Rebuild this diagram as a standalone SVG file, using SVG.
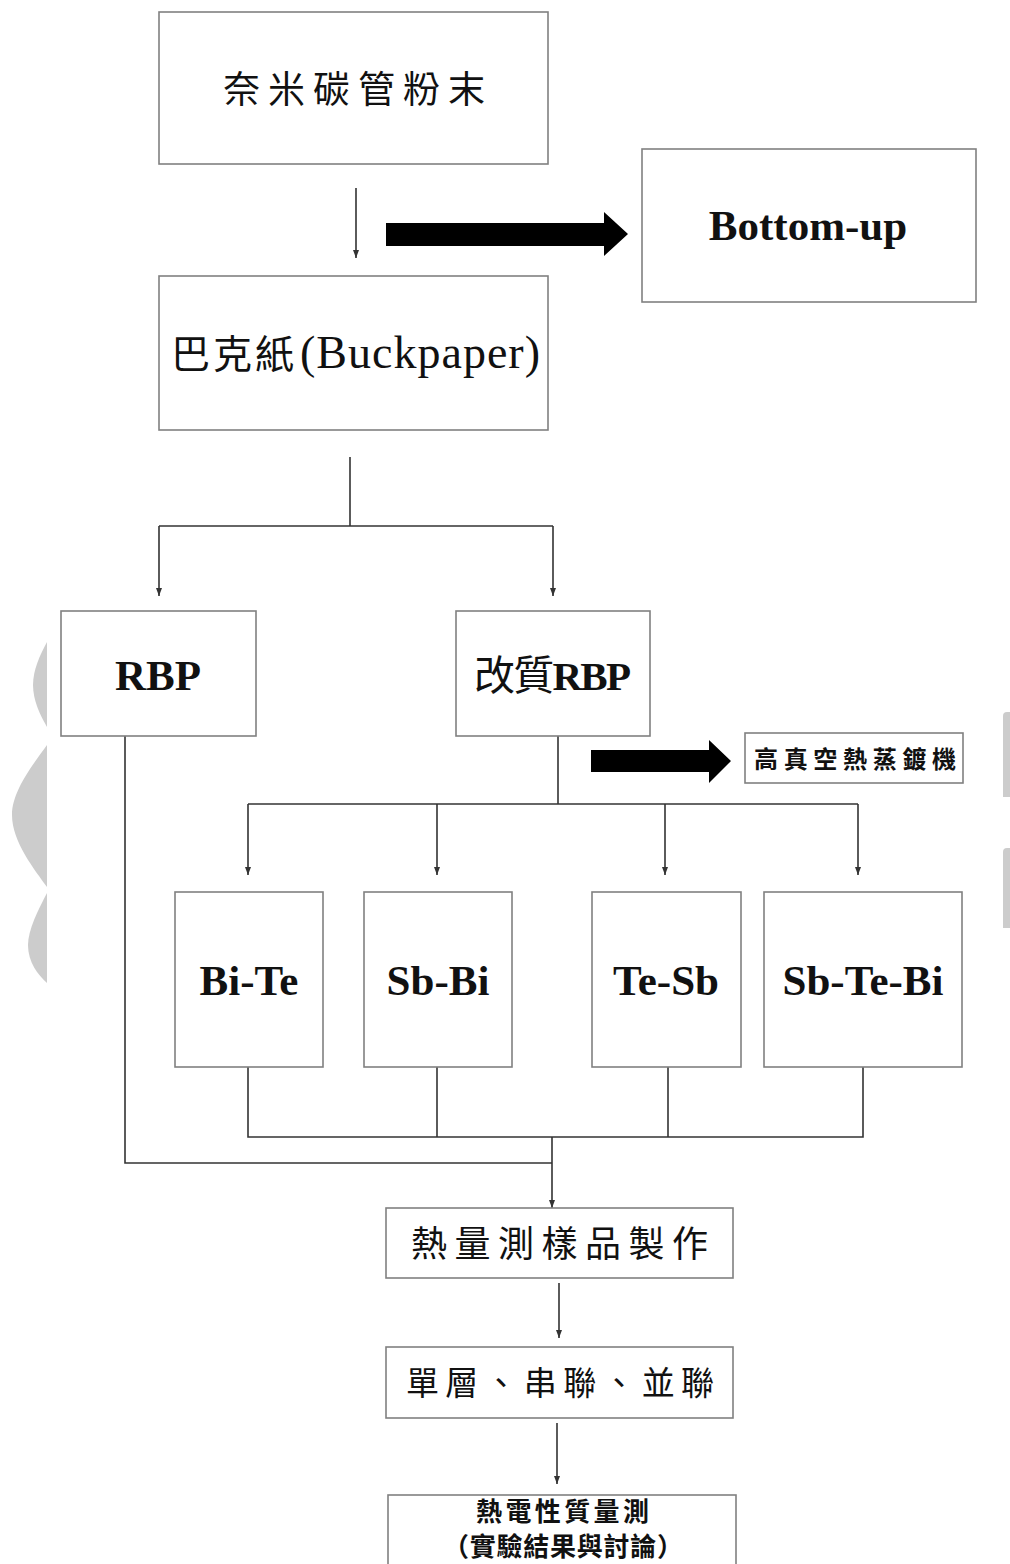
<svg xmlns="http://www.w3.org/2000/svg" width="1010" height="1564" viewBox="0 0 1010 1564">
<style>
.box{fill:#fff;stroke:#808080;stroke-width:1.6}
.cn{fill:none;stroke:#333;stroke-width:1.6}
.cjk{font-family:"Noto Sans CJK TC","Noto Sans CJK SC",sans-serif;fill:#111}
.lat{font-family:"Liberation Serif","Noto Sans CJK TC",serif;font-weight:bold;fill:#111}
.mix{font-family:"Liberation Serif","Noto Sans CJK TC",serif;fill:#111}
.wm{fill:#cccccc}
.big{fill:#000}
</style>
<defs>
<marker id="ah" viewBox="0 0 8 8" refX="8" refY="4" markerWidth="8" markerHeight="8" markerUnits="userSpaceOnUse" orient="auto">
<path d="M0,1 L8,4 L0,7 Z" fill="#333"/>
</marker>
</defs>
<g id="watermark">
<path class="wm" d="M47,642 C40,655 33,670 33,685 C33,700 40,715 47,727 Z"/>
<path class="wm" d="M47,745 C35,762 12,790 12,815 C12,842 35,870 47,887 Z"/>
<path class="wm" d="M47,893 C38,910 28,930 28,945 C28,962 38,975 47,983 Z"/>
<path class="wm" d="M1003,716 Q1003,712 1007,712 L1010,712 L1010,797 L1003,797 Z"/>
<path class="wm" d="M1003,852 Q1003,848 1007,848 L1010,848 L1010,928 L1003,928 Z"/>
</g>
<g id="connectors">
<line class="cn" x1="356" y1="188" x2="356" y2="258" marker-end="url(#ah)"/>
<polygon class="big" points="386,223 604,223 604,212 628,234 604,256 604,246 386,246"/>
<polyline class="cn" points="350,457 350,526"/>
<polyline class="cn" points="159,526 553,526"/>
<line class="cn" x1="159" y1="526" x2="159" y2="596" marker-end="url(#ah)"/>
<line class="cn" x1="553" y1="526" x2="553" y2="596" marker-end="url(#ah)"/>
<polyline class="cn" points="558,736 558,804"/>
<polyline class="cn" points="248,804 858,804"/>
<line class="cn" x1="248" y1="804" x2="248" y2="875" marker-end="url(#ah)"/>
<line class="cn" x1="437" y1="804" x2="437" y2="875" marker-end="url(#ah)"/>
<line class="cn" x1="665" y1="804" x2="665" y2="875" marker-end="url(#ah)"/>
<line class="cn" x1="858" y1="804" x2="858" y2="875" marker-end="url(#ah)"/>
<polygon class="big" points="591,750 709,750 709,740 731,761 709,783 709,772 591,772"/>
<polyline class="cn" points="248,1067 248,1137 863,1137 863,1067"/>
<line class="cn" x1="437" y1="1067" x2="437" y2="1137"/>
<line class="cn" x1="668" y1="1067" x2="668" y2="1137"/>
<polyline class="cn" points="125,736 125,1163 552,1163"/>
<line class="cn" x1="552" y1="1137" x2="552" y2="1208" marker-end="url(#ah)"/>
<line class="cn" x1="559" y1="1283" x2="559" y2="1338" marker-end="url(#ah)"/>
<line class="cn" x1="557" y1="1423" x2="557" y2="1484" marker-end="url(#ah)"/>
</g>
<g id="n-cnt">
<rect class="box" x="159" y="12" width="389" height="152"/>
<text class="cjk" x="223" y="103" font-size="37" textLength="262">奈米碳管粉末</text>
</g>
<g id="n-bottomup">
<rect class="box" x="642" y="149" width="334" height="153"/>
<text class="lat" x="808" y="240" font-size="43" text-anchor="middle">Bottom-up</text>
</g>
<g id="n-buckpaper">
<rect class="box" x="159" y="276" width="389" height="154"/>
<text class="mix" y="368"><tspan x="171" font-size="39" font-family="Noto Sans CJK TC, sans-serif" letter-spacing="3">巴克紙</tspan><tspan x="300" font-size="46" textLength="240">(Buckpaper)</tspan></text>
</g>
<g id="n-rbp">
<rect class="box" x="61" y="611" width="195" height="125"/>
<text class="lat" x="158" y="690" font-size="43" text-anchor="middle">RBP</text>
</g>
<g id="n-mrbp">
<rect class="box" x="456" y="611" width="194" height="125"/>
<text class="lat" x="474" y="690" font-size="41" textLength="157"><tspan font-family="Noto Sans CJK TC, sans-serif" font-weight="normal">改質</tspan>RBP</text>
</g>
<g id="n-vac">
<rect class="box" x="745" y="733" width="218" height="50"/>
<text class="cjk" x="754" y="768" font-size="24" font-weight="bold" textLength="202">高真空熱蒸鍍機</text>
</g>
<g id="n-bite">
<rect class="box" x="175" y="892" width="148" height="175"/>
<text class="lat" x="249" y="995" font-size="43" text-anchor="middle">Bi-Te</text>
</g>
<g id="n-sbbi">
<rect class="box" x="364" y="892" width="148" height="175"/>
<text class="lat" x="438" y="995" font-size="43" text-anchor="middle">Sb-Bi</text>
</g>
<g id="n-tesb">
<rect class="box" x="592" y="892" width="149" height="175"/>
<text class="lat" x="666" y="995" font-size="43" text-anchor="middle">Te-Sb</text>
</g>
<g id="n-sbtebi">
<rect class="box" x="764" y="892" width="198" height="175"/>
<text class="lat" x="863" y="995" font-size="43" text-anchor="middle">Sb-Te-Bi</text>
</g>
<g id="n-sample">
<rect class="box" x="386" y="1208" width="347" height="70"/>
<text class="cjk" x="411" y="1257" font-size="36" textLength="297">熱量測樣品製作</text>
</g>
<g id="n-layer">
<rect class="box" x="386" y="1347" width="347" height="71"/>
<text class="cjk" x="406" y="1395" font-size="33" textLength="308">單層、串聯、並聯</text>
</g>
<g id="n-result">
<rect class="box" x="388" y="1495" width="348" height="90"/>
<text class="cjk" x="476" y="1521" font-size="26" font-weight="bold" textLength="173">熱電性質量測</text>
<text class="cjk" x="443" y="1556" font-size="26" font-weight="bold" textLength="240">（實驗結果與討論）</text>
</g>
</svg>
